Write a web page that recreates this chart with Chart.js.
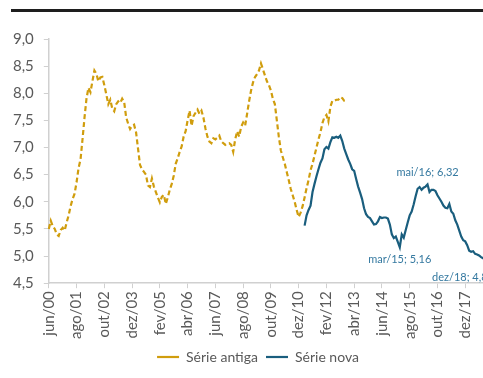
<!DOCTYPE html>
<html>
<head>
<meta charset="utf-8">
<script src="https://cdn.jsdelivr.net/npm/chart.js@4"></script>
<style>
  html, body { margin: 0; padding: 0; background: #fff; overflow: hidden; }
  #wrap { position: relative; width: 483px; height: 378px; overflow: hidden; }
  #rule { position: absolute; left: 11px; top: 9px; width: 472px; height: 3px; background: #1e1e1e; }
  #chart { position: absolute; left: 0; top: 0; }
</style>
</head>
<body>
<div id="wrap">
  <div id="rule"></div>
  <canvas id="chart" width="496" height="378"></canvas>
</div>
<script>
// meses de jun/00 a dez/18
const nomesMes = ['jan', 'fev', 'mar', 'abr', 'mai', 'jun', 'jul', 'ago', 'set', 'out', 'nov', 'dez'];
const meses = [];
for (let i = 0; i < 223; i++) {
    const m = (5 + i) % 12;
    const a = 2000 + Math.floor((5 + i) / 12);
    meses.push(nomesMes[m] + '/' + String(a % 100).padStart(2, '0'));
}
const passoRotulo = 14; // um rotulo a cada 14 meses

// série antiga: jun/00 a dez/12
const serieAntiga = [
    5.50, 5.65, 5.55, 5.50, 5.40, 5.37, 5.48, 5.52, 5.47, 5.62,
    5.75, 5.92, 6.05, 6.15, 6.36, 6.62, 6.78, 7.15, 7.55, 7.90,
    8.10, 8.02, 8.22, 8.42, 8.36, 8.22, 8.29, 8.30, 8.15, 7.98,
    7.80, 7.88, 7.72, 7.67, 7.80, 7.85, 7.82, 7.90, 7.84, 7.56,
    7.44, 7.34, 7.40, 7.42, 7.28, 6.98, 6.68, 6.60, 6.55, 6.50,
    6.30, 6.27, 6.43, 6.28, 6.18, 6.08, 5.99, 6.09, 6.13, 5.96,
    6.08, 6.22, 6.33, 6.48, 6.70, 6.80, 6.92, 7.02, 7.20, 7.30,
    7.50, 7.68, 7.40, 7.58, 7.64, 7.70, 7.62, 7.68, 7.55, 7.35,
    7.20, 7.11, 7.08, 7.17, 7.15, 7.18, 7.22, 7.11, 7.08, 7.05,
    7.07, 7.08, 7.05, 6.92, 7.15, 7.30, 7.20, 7.38, 7.46, 7.40,
    7.62, 7.85, 8.05, 8.20, 8.30, 8.35, 8.42, 8.55, 8.44, 8.33,
    8.22, 8.15, 8.05, 7.90, 7.80, 7.50, 7.20, 6.95, 6.82, 6.70,
    6.55, 6.40, 6.24, 6.12, 6.00, 5.85, 5.72, 5.80, 5.92, 6.08,
    6.25, 6.40, 6.58, 6.70, 6.85, 7.00, 7.15, 7.28, 7.45, 7.56,
    7.60, 7.48, 7.75, 7.86, 7.86, 7.88, 7.88, 7.93, 7.91, 7.86,
    7.85
];

// série nova: mar/11 a dez/18
const inicioNova = 129;
const serieNova = [
    5.56, 5.75, 5.85, 5.93, 6.18, 6.33, 6.47, 6.60, 6.72, 6.80,
    6.97, 7.01, 6.98, 7.10, 7.19, 7.18, 7.20, 7.18, 7.22, 7.12,
    6.98, 6.88, 6.78, 6.70, 6.60, 6.57, 6.42, 6.28, 6.17, 6.05,
    5.88, 5.77, 5.72, 5.70, 5.64, 5.58, 5.59, 5.64, 5.72, 5.70,
    5.71, 5.71, 5.69, 5.58, 5.40, 5.33, 5.36, 5.26, 5.16, 5.40,
    5.34, 5.48, 5.62, 5.75, 5.82, 5.95, 6.10, 6.24, 6.27, 6.22,
    6.26, 6.28, 6.32, 6.18, 6.22, 6.22, 6.20, 6.12, 6.06, 6.00,
    5.93, 5.89, 5.88, 5.96, 5.82, 5.78, 5.66, 5.58, 5.47, 5.36,
    5.29, 5.27, 5.20, 5.10, 5.08, 5.09, 5.04, 5.03, 5.01, 4.98,
    4.96, 4.93, 4.88, 4.83
];

// pontos com rótulo de valor na série nova
const rotulos = [
    { mes: 'mai/16', acima: true },
    { mes: 'mar/15', acima: false },
    { mes: 'dez/18', acima: false }
];

const corAntiga = '#D09D0D';
const corNova = '#1A5E7E';
const corRotulo = '#3579A0';
const corTexto = '#595959';
const corEixo = '#D0D0D0';
const fonte = 'Lato, "Open Sans", sans-serif';
const deslocLegenda = 12;

const antiga = meses.map((m, i) => i < serieAntiga.length ? serieAntiga[i] : null);
const nova = meses.map((m, i) => i >= inicioNova ? serieNova[i - inicioNova] : null);

const rotulosPlugin = {
    id: 'rotulos',
    afterLayout(chart) {
        // legenda um pouco à direita do centro do canvas
        chart.legend.left += deslocLegenda;
        chart.legend.right += deslocLegenda;
    },
    afterDatasetsDraw(chart) {
        const ctx = chart.ctx;
        const x = chart.scales.x;
        const y = chart.scales.y;
        ctx.save();
        ctx.font = '11px ' + fonte;
        ctx.fillStyle = corRotulo;
        ctx.textAlign = 'center';
        ctx.textBaseline = 'middle';
        rotulos.forEach(r => {
            const i = meses.indexOf(r.mes);
            const v = nova[i];
            const txt = r.mes + '; ' + v.toFixed(2).replace('.', ',');
            const w = ctx.measureText(txt).width;
            let px = x.getPixelForValue(i);
            px = Math.min(px, chart.width - w / 2 - 2);
            const py = y.getPixelForValue(v) + (r.acima ? -12 : 12);
            ctx.fillText(txt, px, py);
        });
        ctx.restore();
    }
};

const ctx = document.getElementById('chart').getContext('2d');
const grafico = new Chart(ctx, {
    type: 'line',
    data: {
        labels: meses,
        datasets: [
            {
                label: 'Série antiga',
                data: antiga,
                borderColor: corAntiga,
                backgroundColor: corAntiga,
                borderWidth: 2.2,
                borderDash: [5, 3],
                pointRadius: 0,
                tension: 0
            },
            {
                label: 'Série nova',
                data: nova,
                borderColor: corNova,
                backgroundColor: corNova,
                borderWidth: 2.2,
                pointRadius: 0,
                tension: 0
            }
        ]
    },
    options: {
        responsive: false,
        animation: false,
        layout: { padding: { left: 3, right: 7, top: 39, bottom: 4 } },
        plugins: {
            tooltip: { enabled: false },
            legend: {
                position: 'bottom',
                labels: {
                    usePointStyle: true,
                    pointStyle: 'line',
                    pointStyleWidth: 22,
                    color: corTexto,
                    font: { family: fonte, size: 14 },
                    padding: 8
                }
            }
        },
        scales: {
            x: {
                offset: false,
                afterBuildTicks: (scale) => {
                    scale.ticks = scale.ticks.filter(t => t.value % passoRotulo === 0);
                },
                ticks: {
                    autoSkip: false,
                    minRotation: 90,
                    maxRotation: 90,
                    color: corTexto,
                    font: { family: fonte, size: 15 },
                    padding: 3,
                    callback: (v) => meses[v]
                },
                grid: { drawOnChartArea: false, drawTicks: true, tickLength: 5, color: corEixo },
                border: { color: corEixo, width: 1.5 }
            },
            y: {
                min: 4.5,
                max: 9.0,
                ticks: {
                    stepSize: 0.5,
                    color: corTexto,
                    font: { family: fonte, size: 15 },
                    padding: 10,
                    callback: (v) => v.toFixed(1).replace('.', ',')
                },
                grid: { drawOnChartArea: false, drawTicks: true, tickLength: 5, color: corEixo },
                border: { color: corEixo, width: 1.5 }
            }
        }
    },
    plugins: [rotulosPlugin]
});
</script>
</body>
</html>
